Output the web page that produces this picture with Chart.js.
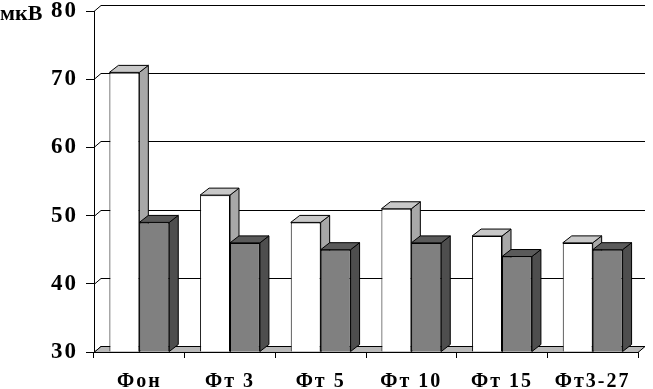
<!DOCTYPE html>
<html>
<head>
<meta charset="utf-8">
<script src="https://cdn.jsdelivr.net/npm/chart.js@4/dist/chart.umd.min.js"></script>
<style>
  html, body { margin: 0; padding: 0; background: #fff; }
  #wrap { width: 653px; height: 389px; }
</style>
</head>
<body>
<div id="wrap"><canvas id="c" width="653" height="389"></canvas></div>
<script>
const categories = ['Фон', 'Фт 3', 'Фт 5', 'Фт 10', 'Фт 15', 'Фт3-27'];
const seriesWhite = [71, 53, 49, 51, 47, 46];
const seriesGray = [49, 46, 45, 46, 44, 45];
const yTicks = [30, 40, 50, 60, 70, 80];
const unitLabel = 'мкВ';

const DX = 9, DY = 7;      // bar depth offset
const WX = 7, WY = 6;      // wall depth offset
const FONT = "'Liberation Serif', 'Times New Roman', serif";

const faceColors = [
  { front: '#ffffff', top: '#c8c8c8', side: '#a8a8a8' },
  { front: '#808080', top: '#5a5a5a', side: '#4e4e4e' }
];

function poly(ctx, pts, fill) {
  ctx.beginPath();
  ctx.moveTo(pts[0][0], pts[0][1]);
  for (let k = 1; k < pts.length; k++) ctx.lineTo(pts[k][0], pts[k][1]);
  ctx.closePath();
  ctx.fillStyle = fill;
  ctx.fill();
  ctx.strokeStyle = '#000';
  ctx.lineWidth = 1;
  ctx.stroke();
}

const threeD = {
  id: 'threeD',
  beforeDraw(chart) { chart.ctx.letterSpacing = '2px'; },
  beforeDatasetsDraw(chart) {
    const ctx = chart.ctx;
    const a = chart.chartArea;
    const ys = chart.scales.y;
    ctx.save();
    ctx.strokeStyle = '#000';
    ctx.lineWidth = 1;
    yTicks.forEach(v => {
      const y = Math.round(ys.getPixelForValue(v)) + 0.5;
      ctx.beginPath();
      ctx.moveTo(a.left, y);
      ctx.lineTo(a.left + WX, y - WY);
      ctx.lineTo(a.right + WX, y - WY);
      ctx.stroke();
    });
    const fb = Math.round(ys.getPixelForValue(yTicks[0])) + 0.5;
    poly(ctx, [[a.left, fb], [a.right, fb], [a.right + WX, fb - WY], [a.left + WX, fb - WY]], '#b8b8b8');
    const metas = [chart.getDatasetMeta(0), chart.getDatasetMeta(1)];
    for (let i = 0; i < categories.length; i++) {
      metas.forEach((m, d) => {
        const el = m.data[i];
        const w = el.width;
        const l = el.x - w / 2, r = el.x + w / 2;
        const t = el.y, b = Math.min(el.base, a.bottom);
        poly(ctx, [[r, t], [r + DX, t - DY], [r + DX, b - DY], [r, b]], faceColors[d].side);
        poly(ctx, [[l, t], [r, t], [r + DX, t - DY], [l + DX, t - DY]], faceColors[d].top);
      });
    }
    ctx.restore();
  },
  afterDraw(chart) {
    const ctx = chart.ctx;
    ctx.save();
    ctx.letterSpacing = '0px';
    ctx.font = 'bold 22px ' + FONT;
    ctx.fillStyle = '#000';
    ctx.textAlign = 'left';
    ctx.textBaseline = 'alphabetic';
    ctx.fillText(unitLabel, 0, 20);
    ctx.restore();
    ctx.letterSpacing = '0px';
  }
};

new Chart(document.getElementById('c'), {
  type: 'bar',
  data: {
    labels: categories,
    datasets: [
      { data: seriesWhite, base: 30, backgroundColor: faceColors[0].front, borderColor: '#000', borderWidth: 1,
        categoryPercentage: 0.66, barPercentage: 1.0 },
      { data: seriesGray, base: 30, backgroundColor: faceColors[1].front, borderColor: '#000', borderWidth: 1,
        categoryPercentage: 0.66, barPercentage: 1.0 }
    ]
  },
  options: {
    responsive: false,
    devicePixelRatio: 1,
    animation: false,
    layout: { padding: { left: 0, top: 11, right: 15, bottom: 0 } },
    plugins: { legend: { display: false }, tooltip: { enabled: false } },
    scales: {
      y: {
        min: 30, max: 80,
        afterFit(s) { s.width = 94; s.paddingTop = 0; s.paddingBottom = 0; },
        afterBuildTicks(s) { s.ticks = yTicks.map(v => ({ value: v })); },
        grid: { drawOnChartArea: false, drawTicks: true, tickLength: 8, color: '#000' },
        border: { display: true, color: '#000', width: 1 },
        ticks: { color: '#000', padding: 8, font: { family: FONT, size: 23, weight: 'bold' } }
      },
      x: {
        afterFit(s) { s.height = 37; s.paddingLeft = 0; s.paddingRight = 0; },
        grid: { drawOnChartArea: false, drawTicks: true, tickLength: 6, color: '#000', offset: true },
        border: { display: true, color: '#000', width: 1 },
        ticks: { color: '#000', padding: 12, font: { family: FONT, size: 20, weight: 'bold' } }
      }
    }
  },
  plugins: [threeD]
});
</script>
</body>
</html>
